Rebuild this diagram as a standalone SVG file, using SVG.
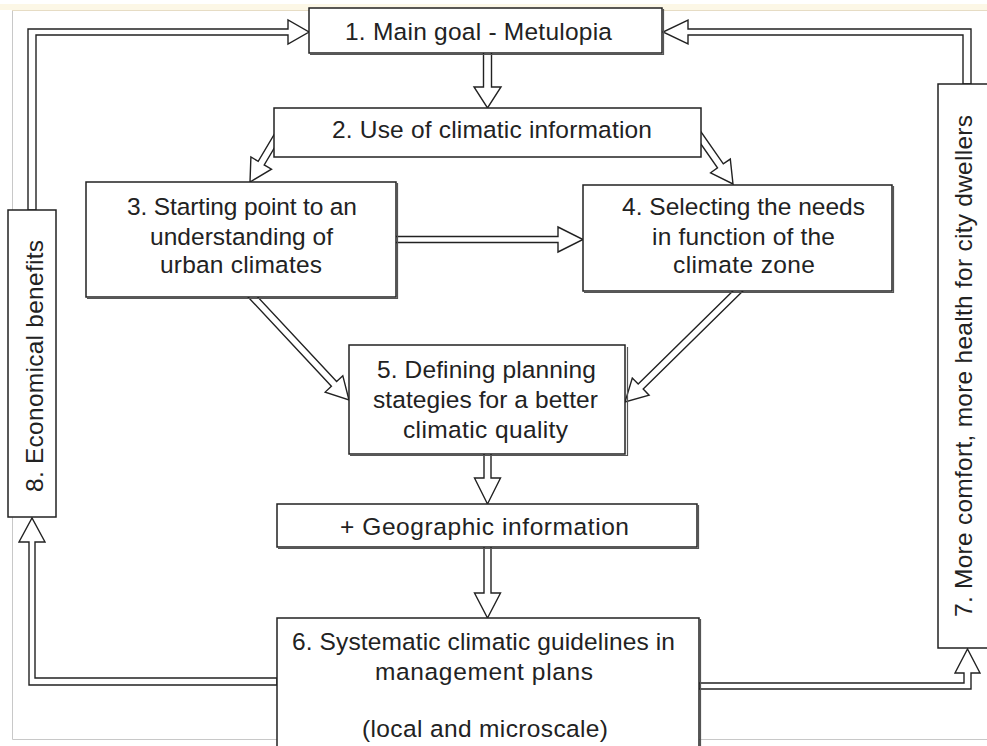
<svg xmlns="http://www.w3.org/2000/svg" width="987" height="746" viewBox="0 0 987 746">
<style>
.bg{fill:#ffffff}
.box{fill:#ffffff;stroke:#222222;stroke-width:1.5}
.shadow{fill:none;stroke:#555555;stroke-width:1.2}
.arr{fill:#ffffff;stroke:#222222;stroke-width:1.4;stroke-linejoin:miter}
.t{font-family:"Liberation Sans",Arial,sans-serif;font-size:24.5px;fill:#222222;text-anchor:middle}
.page{stroke:#c8c8c8;stroke-width:1;fill:none}
</style>
<rect class="bg" x="0" y="0" width="987" height="746"/>
<g id="page">
<rect x="0" y="4" width="987" height="6" fill="#fcf7e6"/>
<line x1="12" y1="10.5" x2="987" y2="10.5" stroke="#e6dcc4" stroke-width="1"/>
<polyline class="page" points="12.5,11 12.5,739.5 987,739.5"/>
</g>
<g id="connectors">
<polygon class="arr" points="483.5,45 483.5,87 474,87 487.5,108 501,87 491.5,87 491.5,45"/>
<polygon class="arr" points="288.2,124.6 264.2,164.9 271.5,169.2 250,182 250.9,157 258.2,161.3 282.2,121"/>
<polygon class="arr" points="690.1,128.5 717.5,167.9 710.6,172.8 733,184 730.3,159.1 723.3,163.9 695.9,124.5"/>
<polygon class="arr" points="390,236.5 558,236.5 558,227 583,239.5 558,252 558,242.5 390,242.5"/>
<polygon class="arr" points="244.1,292.7 331.4,386.3 325.2,392.1 349,400 342.8,375.7 336.6,381.5 249.3,287.9"/>
<polygon class="arr" points="748.7,285.3 643.2,389.1 649.1,395.2 625,402 632.3,378 638.2,384.1 743.8,280.3"/>
<polygon class="arr" points="484,448 484,478 474.5,478 487.5,504 500.5,478 491,478 491,448"/>
<polygon class="arr" points="484,541 484,593 474.5,593 487.5,618 500.5,593 491,593 491,541"/>
<polygon class="arr" points="28,210 28,29 288,29 288,20 309,32 288,44 288,35 36,35 36,210"/>
<polygon class="arr" points="971,84 971,29 688,29 688,20 663,32 688,44 688,35 963,35 963,84"/>
<polygon class="arr" points="277,685 29,685 29,542 19,542 32,518 45,542 35,542 35,678 277,678"/>
<polygon class="arr" points="699,683 964,683 964,673 955,673 967.5,649 980,673 971,673 971,689 699,689"/>
</g>
<g id="node1">
<polyline class="shadow" points="663.5,9 663.5,54.5 310,54.5"/>
<rect class="box" x="309" y="8" width="353" height="45"/>
<text class="t" x="478.5" y="40" textLength="267">1. Main goal - Metulopia</text>
</g>
<g id="node2">
<rect class="box" x="274" y="108" width="427" height="49"/>
<text class="t" x="492" y="138" textLength="320">2. Use of climatic information</text>
</g>
<g id="node3">
<polyline class="shadow" points="397.5,183 397.5,298.5 87,298.5"/>
<rect class="box" x="86" y="182" width="310" height="115"/>
<text class="t" x="242" y="215" textLength="230">3. Starting point to an</text>
<text class="t" x="241.5" y="245" textLength="183">understanding of</text>
<text class="t" x="241" y="273" textLength="162">urban climates</text>
</g>
<g id="node4">
<polyline class="shadow" points="893.5,186 893.5,292.5 584,292.5"/>
<rect class="box" x="583" y="185" width="309" height="106"/>
<text class="t" x="743.5" y="215" textLength="243">4. Selecting the needs</text>
<text class="t" x="743.5" y="245" textLength="183">in function of the</text>
<text class="t" x="744" y="273" textLength="142">climate zone</text>
</g>
<g id="node5">
<polyline class="shadow" points="627.5,347 627.5,455.5 350,455.5"/>
<rect class="box" x="349" y="345" width="276" height="109"/>
<text class="t" x="486.5" y="378" textLength="219">5. Defining planning</text>
<text class="t" x="485.5" y="408" textLength="225">stategies for a better</text>
<text class="t" x="485.5" y="438" textLength="165">climatic quality</text>
</g>
<g id="node_geo">
<polyline class="shadow" points="698.5,505 698.5,548.5 278,548.5"/>
<rect class="box" x="277" y="504" width="420" height="43"/>
<text class="t" x="484.5" y="535" textLength="289">+ Geographic information</text>
</g>
<g id="node6">
<line class="shadow" x1="700.5" y1="619" x2="700.5" y2="746"/>
<rect class="box" x="277" y="618" width="422" height="140"/>
<text class="t" x="483.5" y="650" textLength="383">6. Systematic climatic guidelines in</text>
<text class="t" x="484" y="680" textLength="218">management plans</text>
<text class="t" x="485" y="737" textLength="246">(local and microscale)</text>
</g>
<g id="node7">
<rect class="box" x="938" y="84" width="60" height="564"/>
<text class="t" transform="translate(972,366) rotate(-90)" x="0" y="0" textLength="502">7. More comfort, more health for city dwellers</text>
</g>
<g id="node8">
<rect class="box" x="8" y="210" width="48" height="307"/>
<text class="t" transform="translate(43,366) rotate(-90)" x="0" y="0" textLength="252">8. Economical benefits</text>
</g>
</svg>
